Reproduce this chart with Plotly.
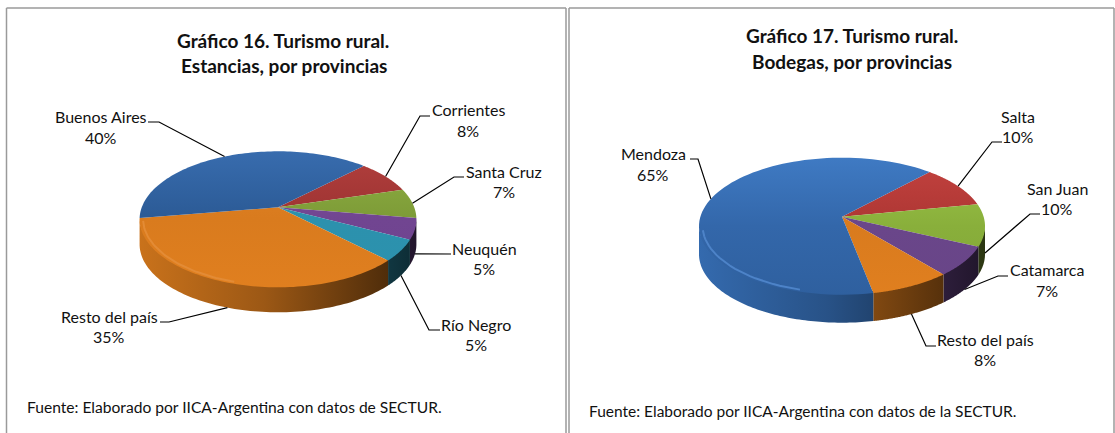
import numpy as np
import plotly.graph_objects as go

# ---------- data ----------
titles_16 = ["Gráfico 16. Turismo rural.", "Estancias, por provincias"]
names_16 = ["Corrientes", "Santa Cruz", "Neuquén", "Río Negro", "Resto del país", "Buenos Aires"]
values_16 = [8, 7, 5, 5, 35, 40]
source_16 = "Fuente: Elaborado por IICA-Argentina con datos de SECTUR."

titles_17 = ["Gráfico 17. Turismo rural.", "Bodegas, por provincias"]
names_17 = ["Salta", "San Juan", "Catamarca", "Resto del país", "Mendoza"]
values_17 = [10, 10, 7, 8, 65]
source_17 = "Fuente: Elaborado por IICA-Argentina con datos de la SECTUR."

# ---------- styles and layout ----------
FONT = "Lato"
colors_16 = ["#b03a38", "#8cae3e", "#7b4b9e", "#2f9ab8", "#e07f1f", "#3268ac"]
colors_17 = ["#c23d3a", "#9ac443", "#744d96", "#e07f1f", "#3a76c2"]
dim_16 = [0.85, 0.85, 0.9, 0.95, 1.0, 0.8]
dim_17 = [0.85, 0.85, 0.9, 1.0, 0.82]

pie_16 = dict(cx=278, cy=207.3, rx=138.4, up=56, down=80, depth=25, start=45)
pie_17 = dict(cx=842, cy=216.7, rx=143, up=59, down=78, depth=28, start=43)

# label centre x, name y, percent y, elbow, end of leader
labels_16 = [
    (468, 109, 130, (420, 116), (430, 116)),
    (504, 171, 191, (454, 177), (464, 177)),
    (484, 248, 268, (451, 254), (451, 254)),
    (476, 324, 344, (429, 330), (440, 330)),
    (109, 316, 336, (169, 322), (160, 322)),
    (101, 116, 137, (159, 122), (148, 122)),
]
labels_17 = [
    (1018, 116, 136, (992, 142), (1002, 142)),
    (1057, 188, 208, (1030, 214), (1040, 214)),
    (1047, 269, 290, (998, 276), (1008, 276)),
    (985, 339, 359, (926, 346), (936, 346)),
    (653, 153, 174, (698, 159), (690, 159)),
]


def shade(hex_color, f):
    rgb = [int(hex_color[i:i + 2], 16) for i in (1, 3, 5)]
    if f <= 1:
        out = [int(c * f) for c in rgb]
    else:
        out = [int(c + (255 - c) * (f - 1)) for c in rgb]
    return "rgb(%d,%d,%d)" % tuple(out)


fig = go.Figure()
annotations = []


def text(x, y, s, size=16, bold=False, anchor="center"):
    annotations.append(dict(
        x=x, y=y, xref="x", yref="y", text=f"<b>{s}</b>" if bold else s,
        showarrow=False, xanchor=anchor, yanchor="middle",
        font=dict(family=FONT, size=size, color="#111111"),
    ))


def draw_pie(values, names, colors, dims, geo, labels):
    a = (geo["down"] - geo["up"]) / (geo["down"] + geo["up"])
    B = geo["up"] * (1 + a)
    A = geo["rx"] * np.sqrt(1 - a * a)

    def rim(deg, scale=1.0):
        t = np.radians(deg)
        u, v = np.sin(t), np.cos(t)
        d = 1 + a * v
        return geo["cx"] + scale * A * u / d, geo["cy"] - scale * B * v / d

    edges = geo["start"] + np.concatenate([[0], np.cumsum(values)]) * 3.6
    left, right = geo["cx"] - geo["rx"], geo["cx"] + geo["rx"]
    top, bottom = geo["cy"] - geo["up"], geo["cy"] + geo["down"]
    wall_from = np.degrees(np.arccos(-a))
    wall_to = 360 - wall_from

    # side walls: only the front part of the rim shows
    for i, c in enumerate(colors):
        lo, hi = max(edges[i], wall_from), min(edges[i + 1], wall_to)
        if hi <= lo:
            continue
        th = np.linspace(lo, hi, 90)
        x, y = rim(th)
        fig.add_trace(go.Scatter(
            x=np.r_[x, x[::-1]], y=np.r_[y - 2, (y + geo["depth"])[::-1]],
            mode="none", fill="toself", hoverinfo="skip", showlegend=False,
            fillgradient=dict(
                type="horizontal", start=left, stop=right,
                colorscale=[[0, shade(c, 0.9)], [0.45, shade(c, 0.7)], [1, shade(c, 0.28)]],
            ),
        ))
    # top faces
    for i, c in enumerate(colors):
        th = np.linspace(edges[i], edges[i + 1], 90)
        x, y = rim(th)
        fig.add_trace(go.Scatter(
            x=np.r_[geo["cx"], x, geo["cx"]], y=np.r_[geo["cy"], y, geo["cy"]],
            mode="none", fill="toself", hoverinfo="skip", showlegend=False,
            fillgradient=dict(
                type="vertical", start=top, stop=bottom,
                colorscale=[[0, shade(c, 1.03)], [0.5, shade(c, (1 + dims[i]) / 2 - 0.03)], [1, shade(c, dims[i])]],
            ),
        ))
    # bevel highlight along the front left of the rim
    for i, c in enumerate(colors):
        th = np.linspace(edges[i], edges[i + 1], 90)
        keep = (np.sin(np.radians(th)) < -0.25) & (np.cos(np.radians(th)) < -0.2)
        if keep.sum() < 2:
            continue
        x, y = rim(th[keep], 0.975)
        fig.add_trace(go.Scatter(
            x=x, y=y, mode="lines", hoverinfo="skip", showlegend=False,
            line=dict(color=shade(c, 1.1), width=2),
        ))
    # leaders and labels
    mids = (edges[:-1] + edges[1:]) / 2
    total = sum(values)
    for i, name in enumerate(names):
        lx, ny, py, elbow, end = labels[i]
        x0, y0 = rim(mids[i])
        if np.cos(np.radians(mids[i])) < 0:
            y0 = y0 + geo["depth"]
        fig.add_trace(go.Scatter(
            x=[x0, elbow[0], end[0]], y=[y0, elbow[1], end[1]],
            mode="lines", hoverinfo="skip", showlegend=False,
            line=dict(color="#000000", width=1.2),
        ))
        text(lx, ny, name)
        text(lx, py, f"{round(values[i] / total * 100)}%")


draw_pie(values_16, names_16, colors_16, dim_16, pie_16, labels_16)
draw_pie(values_17, names_17, colors_17, dim_17, pie_17, labels_17)

text(283, 40, titles_16[0], size=19, bold=True)
text(284, 65, titles_16[1], size=19, bold=True)
text(852, 35, titles_17[0], size=19, bold=True)
text(852, 61, titles_17[1], size=19, bold=True)
text(25, 407, source_16, size=15.6, anchor="left")
text(587, 411, source_17, size=15.5, anchor="left")

frame = dict(color="#9a9a9a", width=1.5)
shapes = [
    dict(type="line", xref="x", yref="y", x0=6.5, x1=566, y0=8, y1=8, line=frame),
    dict(type="line", xref="x", yref="y", x0=6.5, x1=6.5, y0=8, y1=433, line=frame),
    dict(type="line", xref="x", yref="y", x0=566, x1=566, y0=8, y1=433, line=frame),
    dict(type="line", xref="x", yref="y", x0=569, x1=1114, y0=8, y1=8, line=frame),
    dict(type="line", xref="x", yref="y", x0=569, x1=569, y0=8, y1=433, line=frame),
    dict(type="line", xref="x", yref="y", x0=1114, x1=1114, y0=8, y1=433, line=frame),
]

fig.update_layout(
    width=1115, height=433, margin=dict(l=0, r=0, t=0, b=0),
    paper_bgcolor="white", plot_bgcolor="white", showlegend=False,
    xaxis=dict(range=[0, 1115], visible=False, fixedrange=True),
    yaxis=dict(range=[433, 0], visible=False, fixedrange=True),
    annotations=annotations, shapes=shapes,
)
fig.write_html("out.html", config=dict(displayModeBar=False),
               post_script="document.body.style.margin='0';document.body.style.overflow='hidden';")
